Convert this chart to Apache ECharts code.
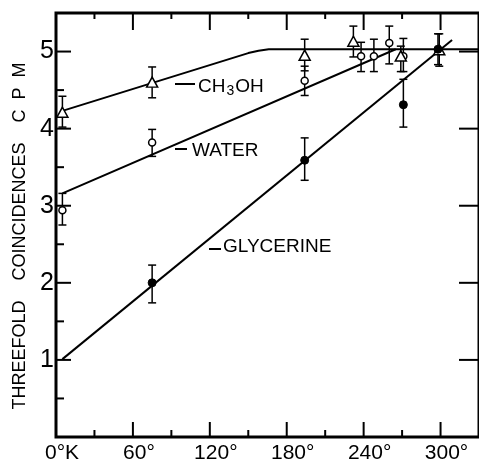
<!DOCTYPE html>
<html>
<head>
<meta charset="utf-8">
<script src="https://cdn.jsdelivr.net/npm/echarts@6/dist/echarts.min.js"></script>
<style>
  html, body { margin: 0; padding: 0; background: #fff; }
  #chart { width: 479px; height: 464px; }
</style>
</head>
<body>
<div id="chart"></div>
<script>
// measured points (temperature in deg K, counts per minute)
var ch3ohT  = [5, 75, 194, 232, 269, 299];
var ch3ohV  = [4.20, 4.59, 4.94, 5.12, 4.93, 5.01];
var ch3ohLo = [4.02, 4.40, 4.75, 4.93, 4.74, 4.81];
var ch3ohHi = [4.42, 4.80, 5.16, 5.33, 5.07, 5.23];

var waterT  = [5, 75, 194, 238, 248, 260, 271];
var waterV  = [2.94, 3.82, 4.62, 4.94, 4.94, 5.11, 4.94];
var waterLo = [2.75, 3.64, 4.43, 4.74, 4.74, 4.84, 4.74];
var waterHi = [3.16, 3.99, 4.81, 5.12, 5.16, 5.33, 5.17];

var glyT  = [75, 194, 271, 298];
var glyV  = [2.00, 3.59, 4.31, 5.03];
var glyLo = [1.74, 3.33, 4.02, 4.83];
var glyHi = [2.23, 3.88, 4.64, 5.23];

// drawn curves
var ch3ohFitT = [5, 150, 158, 166, 330];
var ch3ohFitV = [4.23, 4.98, 5.01, 5.03, 5.03];
var waterFitT = [5, 265];
var waterFitV = [3.16, 5.03];
var glyFitT = [5, 309];
var glyFitV = [1.01, 5.15];

// axis ticks and labels
var xMajor = [60, 120, 180, 240, 300];
var xMinor = [30, 90, 150, 210, 270];
var yMajor = [1, 2, 3, 4, 5];
var yMinor = [0.5, 1.5, 2.5, 3.5, 4.5];
var xTickLabels = ['0°K', '60°', '120°', '180°', '240°', '300°'];
var yTickLabels = ['', '1', '2', '3', '4', '5'];

var X_MAX = 330, Y_MAX = 5.5;

function zip(a, b) {
  return a.map(function (v, i) { return [v, b[i]]; });
}
function zip3(a, b, c) {
  return a.map(function (v, i) { return [v, b[i], c[i]]; });
}

var font = 'Liberation Sans';

function errorBars(data) {
  return {
    type: 'custom',
    data: data,
    z: 3,
    renderItem: function (params, api) {
      var lo = api.coord([api.value(0), api.value(1)]);
      var hi = api.coord([api.value(0), api.value(2)]);
      var w = 4;
      var st = { stroke: '#000', lineWidth: 1.5 };
      return {
        type: 'group',
        children: [
          { type: 'line', shape: { x1: lo[0], y1: lo[1], x2: hi[0], y2: hi[1] }, style: st },
          { type: 'line', shape: { x1: lo[0] - w, y1: lo[1], x2: lo[0] + w, y2: lo[1] }, style: st },
          { type: 'line', shape: { x1: hi[0] - w, y1: hi[1], x2: hi[0] + w, y2: hi[1] }, style: st }
        ]
      };
    }
  };
}

function fitLine(t, v) {
  return {
    type: 'line',
    data: zip(t, v),
    symbol: 'none',
    z: 2,
    lineStyle: { color: '#000', width: 2 }
  };
}

// inward ticks on one side of the frame: side 0 bottom, 1 top, 2 left, 3 right
function ticks(values, side, len) {
  return {
    type: 'custom',
    silent: true,
    z: 4,
    data: values.map(function (v) { return [v]; }),
    renderItem: function (params, api) {
      var v = api.value(0), p, q;
      if (side === 0) { p = api.coord([v, 0]); q = [p[0], p[1] - len]; }
      else if (side === 1) { p = api.coord([v, Y_MAX]); q = [p[0], p[1] + len]; }
      else if (side === 2) { p = api.coord([0, v]); q = [p[0] + len, p[1]]; }
      else { p = api.coord([X_MAX, v]); q = [p[0] - len, p[1]]; }
      return {
        type: 'line',
        shape: { x1: p[0], y1: p[1], x2: q[0], y2: q[1] },
        style: { stroke: '#000', lineWidth: 2 }
      };
    }
  };
}

var chart = echarts.init(document.getElementById('chart'));
var option = {
  animation: false,
  backgroundColor: '#fff',
  grid: {
    left: 56, right: -12, top: 13, bottom: 24,
    show: true, borderColor: '#000', borderWidth: 3, backgroundColor: 'transparent'
  },
  xAxis: {
    type: 'value', min: 0, max: X_MAX, interval: 60,
    splitLine: { show: false },
    axisLine: { show: false },
    axisTick: { show: false },
    axisLabel: {
      show: true, margin: 6, color: '#000', fontFamily: font, fontSize: 21,
      padding: [0, 0, 0, 12], showMaxLabel: false,
      formatter: function (v) { return v % 60 === 0 && v <= 300 ? xTickLabels[v / 60] : ''; }
    }
  },
  yAxis: {
    type: 'value', min: 0, max: Y_MAX, interval: 1,
    splitLine: { show: false },
    axisLine: { show: false },
    axisTick: { show: false },
    axisLabel: {
      show: true, margin: 2, color: '#000', fontFamily: font, fontSize: 25,
      showMaxLabel: false,
      formatter: function (v) { return v % 1 === 0 ? (yTickLabels[v] || '') : ''; }
    }
  },
  series: [
    ticks(xMajor, 0, 15),
    ticks(xMinor, 0, 7),
    ticks(xMajor, 1, 17),
    ticks(xMinor, 1, 6),
    ticks(yMajor, 2, 15),
    ticks(yMinor, 2, 8),
    ticks(yMajor, 3, 20),
    fitLine(ch3ohFitT, ch3ohFitV),
    fitLine(waterFitT, waterFitV),
    fitLine(glyFitT, glyFitV),
    errorBars(zip3(ch3ohT, ch3ohLo, ch3ohHi)),
    errorBars(zip3(waterT, waterLo, waterHi)),
    errorBars(zip3(glyT, glyLo, glyHi)),
    {
      type: 'scatter', data: zip(waterT, waterV), symbol: 'circle', symbolSize: 7, z: 5,
      itemStyle: { color: '#fff', borderColor: '#000', borderWidth: 1.5, opacity: 1 }
    },
    {
      type: 'scatter', data: zip(ch3ohT, ch3ohV), symbol: 'triangle', symbolSize: [11, 10], z: 6,
      symbolOffset: [0, -1],
      itemStyle: { color: '#fff', borderColor: '#000', borderWidth: 1.5, opacity: 1 }
    },
    {
      type: 'scatter', data: zip(glyT, glyV), symbol: 'circle', symbolSize: 8, z: 7,
      itemStyle: { color: '#000', borderColor: '#000', borderWidth: 1, opacity: 1 }
    }
  ],
  graphic: [
    {
      type: 'text', x: 20, y: 236, rotation: Math.PI / 2,
      style: {
        text: 'THREEFOLD    COINCIDENCES    C  P  M',
        font: '18px "' + font + '"', fill: '#000', align: 'center', verticalAlign: 'middle'
      }
    },
    { type: 'line', shape: { x1: 175, y1: 84, x2: 195, y2: 84 }, style: { stroke: '#000', lineWidth: 2 } },
    {
      type: 'text', x: 198, y: 87,
      style: {
        text: '{a|CH}{s|3}{a|OH}', fill: '#000', verticalAlign: 'middle',
        rich: {
          a: { fontFamily: font, fontSize: 19, fill: '#000' },
          s: { fontFamily: font, fontSize: 14, fill: '#000', padding: [8, 1, 0, 1] }
        }
      }
    },
    { type: 'line', shape: { x1: 175, y1: 149, x2: 187, y2: 149 }, style: { stroke: '#000', lineWidth: 2 } },
    {
      type: 'text', x: 192, y: 151,
      style: { text: 'WATER', font: '19px "' + font + '"', fill: '#000', verticalAlign: 'middle' }
    },
    { type: 'line', shape: { x1: 209, y1: 249, x2: 221, y2: 249 }, style: { stroke: '#000', lineWidth: 2 } },
    {
      type: 'text', x: 223, y: 247,
      style: { text: 'GLYCERINE', font: '19px "' + font + '"', fill: '#000', verticalAlign: 'middle' }
    }
  ]
};
chart.setOption(option, true);
</script>
</body>
</html>
